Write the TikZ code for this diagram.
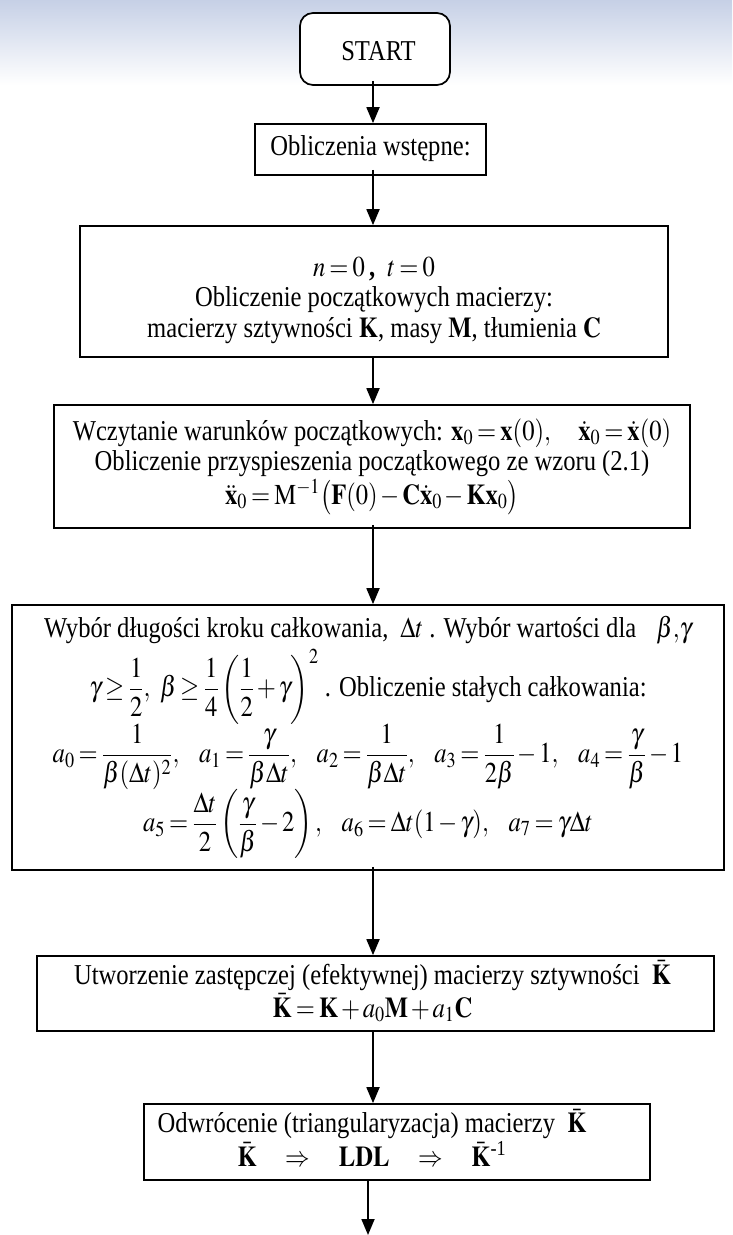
\documentclass[tikz,border=0pt]{standalone}
\usepackage{amsmath}
\usepackage{graphicx}
\usepackage{mathptmx}
\usepackage[no-math]{fontspec}
\setmainfont{Liberation Serif}
\usetikzlibrary{arrows.meta}
\newcommand\tfont{\fontsize{24.6}{26}\selectfont\thickmuskip=3mu plus 2mu\medmuskip=2mu plus 1mu}
\newcommand\bK{\bar{\mathbf{K}}}
\newcommand\gapp{\hspace{17pt}}
\newcommand\vs[1]{\scalebox{1}[1.17]{\begin{tabular}{@{}c@{}}#1\end{tabular}}}
\begin{document}
\begin{tikzpicture}[x=1pt,y=-1pt,
  box/.style={draw, line width=1.7pt, inner sep=0pt, align=center, font=\tfont, fill=white},
  arr/.style={line width=1.8pt, -{Triangle[length=16pt,width=13pt]}}]
\useasboundingbox (0,0) rectangle (732,1235);
\shade[top color={rgb,255:red,198;green,208;blue,230}, bottom color=white] (0,0) rectangle (732,85);
\coordinate (ax) at (373,0);
\coordinate (ax2) at (368,0);
\coordinate (end) at (368,1235);

\node[box, rounded corners=13pt, minimum width=150pt, minimum height=72pt] (s1) at (375,49) {\hspace*{7pt}\vs{\mbox{}\\[-17pt]START}};
\node[box, minimum width=231pt, minimum height=51pt] (s2) at (370.5,149.5) {\vs{Obliczenia wstępne:}};
\node[box, minimum width=588pt, minimum height=131pt] (s3) at (374,291.5)
 {\vs{\mbox{}\\[-10pt]
  $n=0$\,\textbf{,}\ \ $t=0$\\
  Obliczenie początkowych macierzy:\\
  macierzy sztywności $\mathbf{K}$, masy $\mathbf{M}$, tłumienia $\mathbf{C}$}};
\node[box, minimum width=636pt, minimum height=123pt] (s4) at (372,466.5)
 {\vs{Wczytanie warunków początkowych: $\mathbf{x}_0=\mathbf{x}(0),\quad \dot{\mathbf{x}}_0=\dot{\mathbf{x}}(0)$\\
  Obliczenie przyspieszenia początkowego ze wzoru (2.1)\\
  $\ddot{\mathbf{x}}_0=\mathrm{M}^{-1}\bigl(\mathbf{F}(0)-\mathbf{C}\dot{\mathbf{x}}_0-\mathbf{K}\mathbf{x}_0\bigr)$}};
\node[box, minimum width=712pt, minimum height=265pt] (s5) at (368,737.5)
 {\vs{Wybór długości kroku całkowania,\hspace{12pt}$\Delta t$\hspace{6pt}. Wybór wartości dla\hspace{20pt}$\beta{,}\gamma$\\[2pt]
  $\gamma\ge\dfrac{1}{2},\hspace{7pt}\beta\ge\dfrac{1}{4}\left(\dfrac{1}{2}+\gamma\right)^{2}$\ . Obliczenie stałych całkowania:\\[4pt]
  $a_0=\dfrac{1}{\beta(\Delta t)^2},\gapp a_1=\dfrac{\gamma}{\beta\Delta t},\gapp a_2=\dfrac{1}{\beta\Delta t},\gapp a_3=\dfrac{1}{2\beta}-1,\gapp a_4=\dfrac{\gamma}{\beta}-1$\\[15pt]
  $a_5=\dfrac{\Delta t}{2}\left(\dfrac{\gamma}{\beta}-2\right),\gapp a_6=\Delta t(1-\gamma),\gapp a_7=\gamma\Delta t$}};
\node[box, minimum width=677pt, minimum height=75pt] (s6) at (375.5,993.5)
 {\vs{Utworzenie zastępczej (efektywnej) macierzy sztywności \ $\bK$\\
  $\bK=\mathbf{K}+a_0\mathbf{M}+a_1\mathbf{C}$}\hspace*{6pt}};
\node[box, minimum width=506pt, minimum height=76pt] (s7) at (397,1142)
 {\vs{Odwrócenie (triangularyzacja) macierzy \ $\bK$\\
  $\bK\quad\Rightarrow\quad\mathbf{LDL}\quad\Rightarrow\quad\bK^{\text{-1}}$}\hspace*{50pt}};

\draw[arr] ([yshift=5pt]s1.south -| ax) -- (s2.north -| ax);
\draw[arr] ([yshift=6pt]s2.south -| ax) -- (s3.north -| ax);
\draw[arr] (s3.south -| ax) -- (s4.north -| ax);
\draw[arr] ([yshift=4pt]s4.south -| ax) -- (s5.north -| ax);
\draw[arr] ([yshift=4pt]s5.south -| ax) -- (s6.north -| ax);
\draw[arr] (s6.south -| ax) -- (s7.north -| ax);
\draw[arr] (s7.south -| ax2) -- (end);
\end{tikzpicture}
\end{document}
